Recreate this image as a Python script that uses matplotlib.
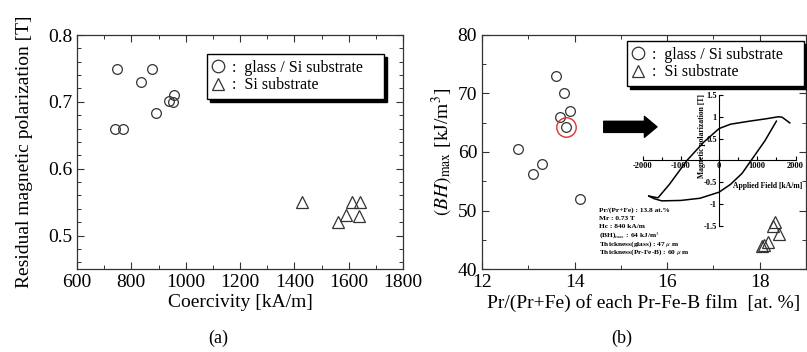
import numpy as np
import matplotlib
matplotlib.use('Agg')
import matplotlib.pyplot as plt
from matplotlib.lines import Line2D
from matplotlib.ticker import MultipleLocator

plt.rcParams['font.family'] = ['Liberation Serif', 'DejaVu Serif']
plt.rcParams['mathtext.fontset'] = 'stix'

# (a) coercivity vs residual polarization
hc_glass = [747, 877, 835, 741, 769, 890, 939, 958, 955]
jr_glass = [0.749, 0.749, 0.729, 0.659, 0.659, 0.683, 0.701, 0.710, 0.700]
hc_si = [1427, 1562, 1589, 1613, 1641, 1638]
jr_si = [0.550, 0.521, 0.531, 0.550, 0.550, 0.530]

# (b) composition vs (BH)max
pr_glass = [13.59, 13.78, 13.90, 13.69, 13.81, 12.78, 13.11, 13.30, 14.11]
bh_glass = [73.0, 70.0, 67.0, 66.0, 64.3, 60.5, 56.2, 58.0, 52.0]
pr_si = [18.28, 18.33, 18.42, 18.05, 18.10, 18.18]
bh_si = [47.3, 48.0, 46.0, 43.9, 44.1, 44.6]
pr_sel, bh_sel = 13.81, 64.3

# inset hysteresis loop
h_up = [-1840, -1600, -1300, -840, -400, 0, 300, 800, 1200, 1550, 1650, 1850]
j_up = [-0.82, -0.86, -0.55, 0.0, 0.42, 0.73, 0.83, 0.90, 0.95, 1.0, 0.99, 0.86]
h_lo = [-1840, -1700, -1500, -1000, -500, 0, 300, 600, 840, 1200, 1500]
j_lo = [-0.82, -0.88, -0.93, -0.92, -0.87, -0.73, -0.55, -0.30, 0.0, 0.45, 0.90]
inset_xticks = [-2000, -1000, 0, 1000, 2000]
inset_yticks = [-1.5, -1, -0.5, 0.5, 1, 1.5]
inset_ylabels = ['-1.5', '-1', '-0.5', '0.5', '1', '1.5']

legend_labels = [':  glass / Si substrate    ', ':  Si substrate']
info_lines = ['Pr/(Pr+Fe) : 13.8 at.%', 'Mr : 0.73 T', 'Hc : 840 kA/m',
              '(BH)$_{\\mathrm{max}}$ : 64 kJ/m$^{3}$',
              'Thickness(glass) : 47 $\\mu$ m', 'Thickness(Pr-Fe-B) : 60 $\\mu$ m']

W, H = 807, 352
fig = plt.figure(figsize=(W/100, H/100), dpi=100)
edge = '#333333'
mk = dict(ls='none', mfc='none', mec=edge, mew=0.9)

def style(ax):
    for s in ax.spines.values():
        s.set_color(edge); s.set_linewidth(0.9)
    ax.tick_params(which='both', direction='in', top=True, right=True,
                   colors=edge, labelcolor='black', labelsize=14)
    ax.tick_params(which='major', length=5, width=0.8)
    ax.tick_params(which='minor', length=3, width=0.7)

def add_legend(ax, anchor):
    handles = [Line2D([], [], marker='o', ms=9, **mk),
               Line2D([], [], marker='^', ms=9, **mk)]
    lg = ax.legend(handles, legend_labels,
                   loc='upper left', bbox_to_anchor=anchor, borderaxespad=0,
                   fontsize=11.5, handlelength=0.7, handletextpad=0.5,
                   labelspacing=0.1, borderpad=0.35, fancybox=False,
                   edgecolor='black', framealpha=1,
                   shadow={'color': 'black', 'alpha': 1.0})
    lg.get_frame().set_linewidth(1.0)

# ---- (a)
axa = fig.add_axes([77/W, 1-269/H, 326/W, 234/H])
axa.plot(hc_glass, jr_glass, marker='o', ms=7, **mk)
axa.plot(hc_si, jr_si, marker='^', ms=8.5, **mk)
axa.set_xlim(600, 1800); axa.set_ylim(0.45, 0.8)
axa.xaxis.set_major_locator(MultipleLocator(200)); axa.xaxis.set_minor_locator(MultipleLocator(100))
axa.yaxis.set_major_locator(MultipleLocator(0.1)); axa.yaxis.set_minor_locator(MultipleLocator(0.02))
axa.set_yticks([0.5, 0.6, 0.7, 0.8])
axa.set_yticklabels(['0.5', '0.6', '0.7', '0.8'])
style(axa)
axa.set_xlabel('Coercivity [kA/m]', fontsize=14, labelpad=2)
axa.set_ylabel('Residual magnetic polarization [T]', fontsize=14, labelpad=11)
add_legend(axa, (0.399, 0.919))
fig.text(218/W, 1-338/H, '(a)', ha='center', va='center', fontsize=13)

# ---- (b)
axb = fig.add_axes([482/W, 1-269/H, 324/W, 234/H])
axb.plot(pr_glass, bh_glass, marker='o', ms=7, **mk)
axb.plot(pr_si, bh_si, marker='^', ms=8.5, **mk)
axb.plot([pr_sel], [bh_sel], marker='o', ms=14, ls='none', mfc='none', mec='#e03030', mew=1.0)
axb.set_xlim(12, 19); axb.set_ylim(40, 80)
axb.xaxis.set_major_locator(MultipleLocator(2)); axb.xaxis.set_minor_locator(MultipleLocator(1))
axb.yaxis.set_major_locator(MultipleLocator(10)); axb.yaxis.set_minor_locator(MultipleLocator(5))
style(axb)
axb.set_xticks([12, 14, 16, 18])
axb.set_xlabel('Pr/(Pr+Fe) of each Pr-Fe-B film  [at. %]', fontsize=14, labelpad=2)
axb.set_ylabel('$(BH)_{\\mathrm{max}}$ [kJ/m$^{3}$]', fontsize=14, labelpad=2)
add_legend(axb, (0.447, 0.974))
axb.annotate('', xy=(15.78, bh_sel), xytext=(14.63, bh_sel),
             arrowprops=dict(arrowstyle='simple,head_width=0.75,head_length=0.45,tail_width=0.4',
                             mutation_scale=20, fc='black', ec='black', shrinkA=0, shrinkB=0))
fig.text(622/W, 1-338/H, '(b)', ha='center', va='center', fontsize=13)

# info text
for i, line in enumerate(info_lines):
    fig.text(599/W, 1-(210+i*8.5)/H, line, ha='left', va='center',
             fontsize=5.3, fontweight='bold')

# ---- inset
axi = fig.add_axes([642.7/W, 1-225.7/H, 152.8/W, 130.7/H])
axi.patch.set_alpha(0)
axi.plot(h_up, j_up, color='black', lw=1.1)
axi.plot(h_lo, j_lo, color='black', lw=1.1)
axi.set_xlim(-2000, 2000); axi.set_ylim(-1.5, 1.5)
for s in ['top', 'right']:
    axi.spines[s].set_visible(False)
axi.spines['left'].set_position(('data', 0))
axi.spines['bottom'].set_position(('data', 0))
axi.set_xticks(inset_xticks)
axi.set_xticklabels([str(v) for v in inset_xticks])
axi.xaxis.set_minor_locator(MultipleLocator(500))
axi.set_yticks(inset_yticks)
axi.set_yticklabels(inset_ylabels)
axi.tick_params(which='both', direction='in', labelsize=6, pad=1.5, width=0.8)
axi.tick_params(which='major', length=3)
axi.tick_params(which='minor', length=2)
for lb in axi.get_xticklabels() + axi.get_yticklabels():
    lb.set_fontweight('bold')
axi.text(-450, 0.55, 'Magnetic polarization [T]', rotation=90, ha='center', va='center',
         fontsize=5.5, fontweight='bold')
axi.text(1280, -0.6, 'Applied Field [kA/m]', ha='center', va='center',
         fontsize=5.5, fontweight='bold', clip_on=False)

fig.savefig('out.png', dpi=100)
